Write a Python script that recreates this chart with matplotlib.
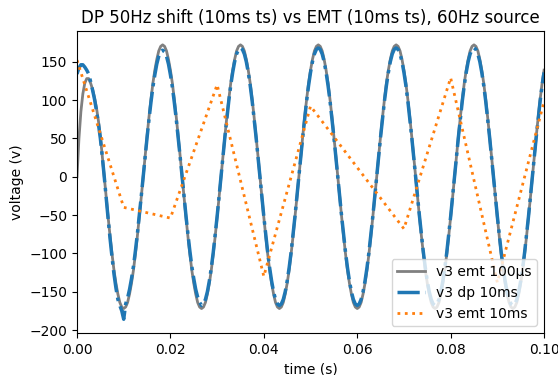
from matplotlib import pyplot as plt
import numpy as np

# sample times for the two fine traces (1/2400 s steps), 0 .. 0.1 s
t_fine = np.arange(241) / 2400.0

# v3 emt 100us
v3_emt_100us = [
    0, 50, 85, 108, 122, 128, 128, 122, 114, 103, 90, 73, 53, 27, 0, -27, -53, -78, -101, -122, -139, -153, -164, -170,
    -172, -170, -164, -153, -139, -122, -101, -78, -53, -27, 0, 27, 53, 78, 101, 122, 139, 153, 164, 170,
    172, 170, 164, 153, 139, 122, 101, 78, 53, 27, 0, -27, -53, -78, -101, -122, -139, -153, -164, -170,
    -172, -170, -164, -153, -139, -122, -101, -78, -53, -27, 0, 27, 53, 78, 101, 122, 139, 153, 164, 170,
    172, 170, 164, 153, 139, 122, 101, 78, 53, 27, 0, -27, -53, -78, -101, -122, -139, -153, -164, -170,
    -172, -170, -164, -153, -139, -122, -101, -78, -53, -27, 0, 27, 53, 78, 101, 122, 139, 153, 164, 170,
    172, 170, 164, 153, 139, 122, 101, 78, 53, 27, 0, -27, -53, -78, -101, -122, -139, -153, -164, -170,
    -172, -170, -164, -153, -139, -122, -101, -78, -53, -27, 0, 27, 53, 78, 101, 122, 139, 153, 164, 170,
    172, 170, 164, 153, 139, 122, 101, 78, 53, 27, 0, -27, -53, -78, -101, -122, -139, -153, -164, -170,
    -172, -170, -164, -153, -139, -122, -101, -78, -53, -27, 0, 27, 53, 78, 101, 122, 139, 153, 164, 170,
    172, 170, 164, 153, 139, 122, 101, 78, 53, 27, 0, -27, -53, -78, -101, -122, -139, -153, -164, -170,
    -172, -170, -164, -153, -139, -122, -101, -78, -53, -27, 0, 27, 53, 78, 101, 122, 139]

# v3 dp 10ms (blue trace)
v3_dp_10ms = [
    134, 142, 146, 146, 143, 139, 134, 124, 113, 101, 86, 69, 50, 26, 0, -28, -55, -81, -105, -127,
    -145, -160, -168, -175, -186, -166, -158, -147, -133, -117, -97, -75, -51, -26, 0, 26, 51, 75, 97, 117,
    133, 147, 157, 163, 165, 163, 157, 147, 133, 117, 97, 75, 51, 26, 0, -26, -51, -75, -97, -117,
    -133, -147, -157, -164,
    -168, -166, -160, -150, -136, -119, -99, -76, -52, -26, 0, 26, 52, 76, 99, 119, 136, 150, 160, 166,
    168, 166, 160, 150, 136, 119, 99, 76, 52, 26, 0, -26, -52, -76, -99, -119, -136, -150, -160, -166,
    -168, -166, -160, -150, -136, -119, -99, -76, -52, -26, 0, 26, 52, 76, 99, 119, 136, 150, 160, 166,
    168, 166, 160, 150, 136, 119, 99, 76, 52, 26, 0, -26, -52, -76, -99, -119, -136, -150, -160, -166,
    -168, -166, -160, -150, -136, -119, -99, -76, -52, -26, 0, 26, 52, 76, 99, 119, 136, 150, 160, 166,
    168, 166, 160, 150, 136, 119, 99, 76, 52, 26, 0, -26, -52, -76, -99, -119, -136, -150, -160, -166,
    -168, -166, -160, -150, -136, -119, -99, -76, -52, -26, 0, 26, 52, 76, 99, 119, 136, 150, 160, 166,
    168, 166, 160, 150, 136, 119, 99, 76, 52, 26, 0, -26, -52, -76, -99, -119, -136, -150, -160, -166,
    -168, -166, -160, -150, -136, -119, -99, -76, -52, -26, 0, 26, 52, 76, 99, 119, 136]

# v3 emt 10ms (orange trace), one point every 10 ms
t_coarse = [0.0, 0.01, 0.02, 0.03, 0.04, 0.05, 0.06, 0.07, 0.08, 0.09, 0.1]
v3_emt_10ms = [152, -40, -54, 120, -130, 92, 12, -68, 129, -138, 98]


fig = plt.figure(figsize=(5.58, 3.75), dpi=100)
fig.subplots_adjust(left=0.138, right=0.975, top=0.917, bottom=0.112)
ax = fig.add_subplot(111)

ax.plot(t_fine, v3_emt_100us, color='gray', linewidth=2, label='v3 emt 100\u03bcs')
ax.plot(t_fine, v3_dp_10ms, color='C0', linestyle='-.', linewidth=2.5, label='v3 dp 10ms')
ax.plot(t_coarse, v3_emt_10ms, color='C1', linestyle=':', linewidth=2, label='v3 emt 10ms')

ax.set_title('DP 50Hz shift (10ms ts) vs EMT (10ms ts), 60Hz source')
ax.set_xlabel('time (s)')
ax.set_ylabel('voltage (v)')
ax.set_xlim(0, 0.1)
ax.legend(loc='lower right')

fig.savefig('out.png', dpi=100)
